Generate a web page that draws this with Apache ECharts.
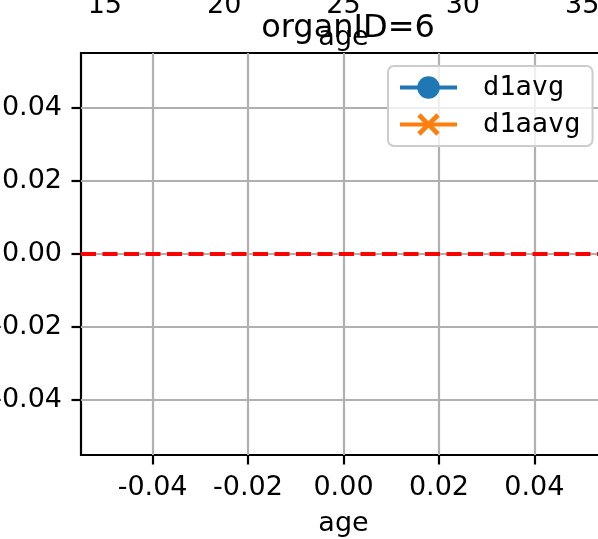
<!DOCTYPE html>
<html>
<head>
<meta charset="utf-8">
<script src="https://cdn.jsdelivr.net/npm/echarts@6/dist/echarts.min.js"></script>
<style>
  html, body { margin: 0; padding: 0; background: #fff; }
  #chart { width: 598px; height: 539px; }
</style>
</head>
<body>
<div id="chart"></div>
<script>
// organ 6 has no rows, so both averages are empty
const seriesNames = ['d1avg', 'd1aavg']
const d1avg = []
const d1aavg = []
const zeroLevel = 0

const xTicks = [-0.04, -0.02, 0, 0.02, 0.04]
const yTicks = [-0.04, -0.02, 0, 0.02, 0.04]
const ageTicks = [15, 20, 25, 30, 35]
const xRange = [-0.055, 0.055]
const yRange = [-0.055, 0.055]
const ageRange = [14, 36]

const font = 'DejaVu Sans'
const crossPath = 'path://M0,1.5L1.5,0L5,3.5L8.5,0L10,1.5L6.5,5L10,8.5L8.5,10L5,6.5L1.5,10L0,8.5L3.5,5Z'

const chart = echarts.init(document.getElementById('chart'))

const option = {
  animation: false,
  title: {
    text: 'organID=6',
    left: 343,
    top: 8,
    textAlign: 'center',
    textStyle: { fontFamily: font, fontSize: 32, fontWeight: 'normal', color: '#000' }
  },
  grid: {
    left: 81, top: 53, width: 525, height: 402,
    show: true, borderColor: '#000', borderWidth: 2.2, backgroundColor: 'transparent',
    containLabel: false,
    outerBoundsMode: 'none'
  },
  legend: {
    data: seriesNames,
    orient: 'vertical',
    left: 388,
    top: 66,
    padding: [8, 12, 8, 10],
    itemGap: 10,
    itemWidth: 57,
    itemHeight: 28,
    lineStyle: { width: 4 },
    backgroundColor: 'rgba(255,255,255,0.8)',
    borderColor: '#cccccc',
    borderWidth: 2,
    borderRadius: 6,
    textStyle: { fontFamily: 'DejaVu Sans Mono', fontSize: 27, lineHeight: 27, color: '#000', padding: [0, 0, 0, 21] }
  },
  xAxis: [
    {
      type: 'value',
      position: 'bottom',
      min: xRange[0], max: xRange[1],
      name: 'age',
      nameLocation: 'middle',
      nameGap: 55,
      nameMoveOverlap: false,
      nameTextStyle: { fontFamily: font, fontSize: 27, color: '#000' },
      axisLine: { show: false, onZero: false },
      axisTick: { show: true, inside: false, length: 9.5, lineStyle: { color: '#000', width: 2.2 }, customValues: xTicks },
      axisLabel: { margin: 19, fontFamily: font, fontSize: 27, color: '#000', customValues: xTicks, formatter: v => v.toFixed(2) },
      splitLine: { show: true, lineStyle: { color: '#b0b0b0', width: 2.2 } }
    },
    {
      type: 'value',
      position: 'top',
      min: ageRange[0], max: ageRange[1],
      name: 'age',
      nameLocation: 'middle',
      nameGap: 2,
      nameMoveOverlap: false,
      nameTextStyle: { fontFamily: font, fontSize: 27, color: '#000' },
      axisLine: { show: false, onZero: false },
      axisTick: { show: false, customValues: ageTicks },
      axisLabel: { margin: 34, fontFamily: font, fontSize: 27, color: '#000', customValues: ageTicks },
      splitLine: { show: false }
    }
  ],
  yAxis: {
    type: 'value',
    min: yRange[0], max: yRange[1],
    axisLine: { show: false, onZero: false },
    axisTick: { show: true, inside: false, length: 9.5, lineStyle: { color: '#000', width: 2.2 }, customValues: yTicks },
    axisLabel: { margin: 19, fontFamily: font, fontSize: 27, color: '#000', customValues: yTicks, formatter: v => v.toFixed(2) },
    splitLine: { show: true, lineStyle: { color: '#b0b0b0', width: 2.2 } }
  },
  series: [
    {
      name: seriesNames[0],
      type: 'line',
      xAxisIndex: 0,
      data: d1avg,
      symbol: 'circle',
      symbolSize: 18,
      color: '#1f77b4',
      lineStyle: { width: 4 },
      markLine: {
        silent: true,
        symbol: 'none',
        label: { show: false },
        lineStyle: { color: '#ff0000', width: 4, type: [15, 6.5] },
        data: [{ yAxis: zeroLevel }]
      }
    },
    {
      name: seriesNames[1],
      type: 'line',
      xAxisIndex: 0,
      data: d1aavg,
      symbol: crossPath,
      symbolSize: 18,
      color: '#ff7f0e',
      lineStyle: { width: 4 }
    }
  ]
}

chart.setOption(option)
</script>
</body>
</html>
